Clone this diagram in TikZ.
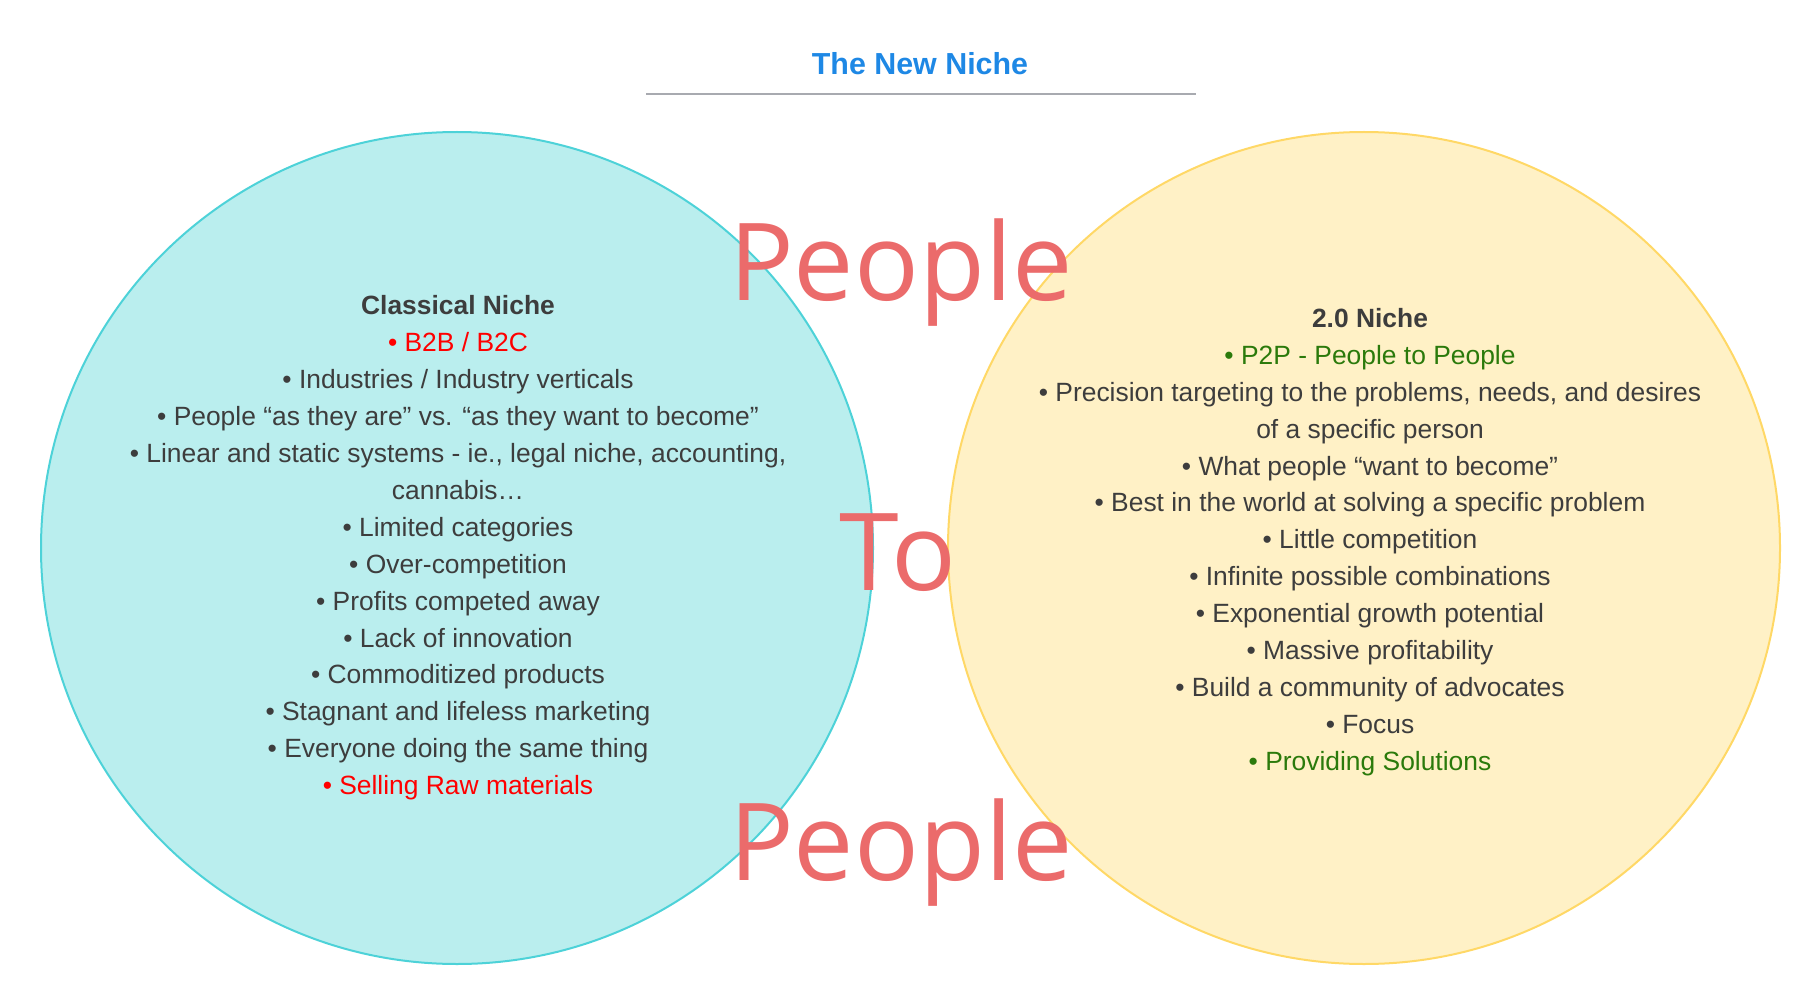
\documentclass[tikz,border=0pt]{standalone}
\usepackage{fontspec}
\setmainfont{Liberation Sans}
\newfontfamily\bigfont{Open Sans}
\usepackage{xcolor}
\usetikzlibrary{positioning,calc}
\definecolor{ttlblue}{RGB}{30,136,229}
\definecolor{rulegray}{RGB}{168,170,176}
\definecolor{txtgray}{RGB}{61,61,61}
\definecolor{hotred}{RGB}{255,0,0}
\definecolor{okgreen}{RGB}{43,122,11}
\definecolor{ppred}{RGB}{235,107,107}
\definecolor{cyfill}{RGB}{186,238,238}
\definecolor{cyline}{RGB}{77,210,216}
\definecolor{ylfill}{RGB}{255,241,198}
\definecolor{ylline}{RGB}{255,216,102}
\newcommand{\itm}[1]{\textbullet~#1}

\begin{document}
\begin{tikzpicture}[x=0.5pt, y=-0.5pt,
  disc/.style={circle, draw=#1line, fill=#1fill, line width=1pt, minimum size=416pt, inner sep=0pt},
  block/.style={align=center, text=txtgray, font=\fontsize{13.2}{18.45}\selectfont, inner sep=0pt},
  big/.style={font=\bigfont\fontsize{53.8}{60}\selectfont, text=ppred, anchor=base, inner sep=0pt},
  rule/.style={draw=rulegray, line width=0.75pt}]
\useasboundingbox (0,0) rectangle (1820,1000);
% title
\node[font=\bfseries\fontsize{15.2}{18}\selectfont, text=ttlblue] (title) at (920,64) {The New Niche};
\coordinate (ruleL) at (646,94);
\coordinate (ruleR) at (1196,94);
\draw[rule] (ruleL) -- (ruleR);
% the two circles
\node[disc=cy] (classic) at (457,548) {};
\node[disc=yl] (niche) at (1364,548) {};
\node[block] (ctext) at (458,548) {%
  \textbf{Classical Niche}\\
  \textcolor{hotred}{\itm{B2B / B2C}}\\
  \itm{Industries / Industry verticals}\\
  \itm{People “as they are” vs. “as they want to become”}\\
  \itm{Linear and static systems - ie., legal niche, accounting,}\\
  cannabis…\\
  \itm{Limited categories}\\
  \itm{Over-competition}\\
  \itm{Profits competed away}\\
  \itm{Lack of innovation}\\
  \itm{Commoditized products}\\
  \itm{Stagnant and lifeless marketing}\\
  \itm{Everyone doing the same thing}\\
  \textcolor{hotred}{\itm{Selling Raw materials}}};
\node[block] (ntext) at (1370,542) {%
  \textbf{2.0 Niche}\\
  \textcolor{okgreen}{\itm{P2P - People to People}}\\
  \itm{Precision targeting to the problems, needs, and desires}\\
  of a specific person\\
  \itm{What people “want to become”}\\
  \itm{Best in the world at solving a specific problem}\\
  \itm{Little competition}\\
  \itm{Infinite possible combinations}\\
  \itm{Exponential growth potential}\\
  \itm{Massive profitability}\\
  \itm{Build a community of advocates}\\
  \itm{Focus}\\
  \textcolor{okgreen}{\itm{Providing Solutions}}};
% people to people
\node[big] (ptop) at (901,300) {People};
\node[big] (to) at (898,590) {To};
\node[big] (pbot) at (901,880) {People};
\end{tikzpicture}
\end{document}
